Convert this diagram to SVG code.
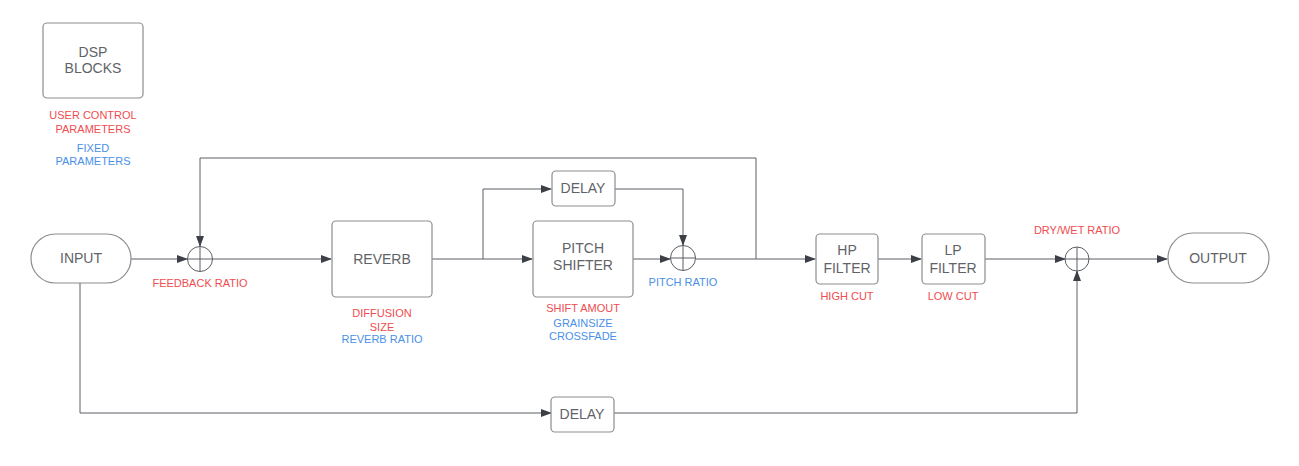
<svg xmlns="http://www.w3.org/2000/svg" width="1299" height="466" viewBox="0 0 1299 466">
<style>
.box{fill:#fff;stroke:#8a8d91;stroke-width:1.2}
.t{font-family:"Liberation Sans",Arial,sans-serif;font-size:14px;fill:#5f6368;text-anchor:middle}
.r{font-family:"Liberation Sans",Arial,sans-serif;font-size:11px;fill:#ef4c4f;text-anchor:middle}
.b{font-family:"Liberation Sans",Arial,sans-serif;font-size:11px;fill:#4a90e8;text-anchor:middle}
.ln{fill:none;stroke:#5a5e64;stroke-width:1;stroke-linejoin:round}
.sum{fill:#fff;stroke:#5a5e64;stroke-width:1}
</style>
<defs>
<marker id="ah" markerWidth="11" markerHeight="8" refX="10" refY="4" orient="auto" markerUnits="userSpaceOnUse">
<path d="M0,0 L11,4 L0,8 Z" fill="#3c4046"/>
</marker>
</defs>
<rect width="1299" height="466" fill="#fff"/>
<g id="connectors">
<path class="ln" d="M131,259 H187" marker-end="url(#ah)"/>
<path class="ln" d="M756,259 V158 H200 V246" marker-end="url(#ah)"/>
<path class="ln" d="M213,259 H331" marker-end="url(#ah)"/>
<path class="ln" d="M432,259 H532" marker-end="url(#ah)"/>
<path class="ln" d="M483,259 V189 H551" marker-end="url(#ah)"/>
<path class="ln" d="M615,189 H683 V245" marker-end="url(#ah)"/>
<path class="ln" d="M633,259 H670" marker-end="url(#ah)"/>
<path class="ln" d="M696,259 H815" marker-end="url(#ah)"/>
<path class="ln" d="M878,259 H921" marker-end="url(#ah)"/>
<path class="ln" d="M985,259 H1065" marker-end="url(#ah)"/>
<path class="ln" d="M1089,259 H1167" marker-end="url(#ah)"/>
<path class="ln" d="M80,283 V413 H551" marker-end="url(#ah)"/>
<path class="ln" d="M614,413 H1077 V271" marker-end="url(#ah)"/>
</g>
<g id="legend">
<rect class="box" x="43" y="23" width="100" height="75" rx="4"/>
<text class="t" x="93" y="57">DSP</text>
<text class="t" x="93" y="73">BLOCKS</text>
<text class="r" x="93" y="119">USER CONTROL</text>
<text class="r" x="93" y="133">PARAMETERS</text>
<text class="b" x="93" y="152">FIXED</text>
<text class="b" x="93" y="165">PARAMETERS</text>
</g>
<g id="input">
<rect class="box" x="31" y="234" width="100" height="49" rx="24.5"/>
<text class="t" x="81" y="263">INPUT</text>
</g>
<g id="sum-feedback">
<circle class="sum" cx="200" cy="259" r="12.5"/>
<path class="ln" d="M187.5,259 H212.5 M200,246.5 V271.5"/>
<text class="r" x="200" y="287">FEEDBACK RATIO</text>
</g>
<g id="reverb">
<rect class="box" x="332" y="221" width="100" height="76" rx="4"/>
<text class="t" x="382" y="264">REVERB</text>
<text class="r" x="382" y="317">DIFFUSION</text>
<text class="r" x="382" y="331">SIZE</text>
<text class="b" x="382" y="343">REVERB RATIO</text>
</g>
<g id="delay-top">
<rect class="box" x="552" y="171" width="63" height="35" rx="4"/>
<text class="t" x="583" y="193">DELAY</text>
</g>
<g id="pitch-shifter">
<rect class="box" x="533" y="221" width="100" height="76" rx="4"/>
<text class="t" x="583" y="253">PITCH</text>
<text class="t" x="583" y="270">SHIFTER</text>
<text class="r" x="583" y="312">SHIFT AMOUT</text>
<text class="b" x="583" y="327">GRAINSIZE</text>
<text class="b" x="583" y="340">CROSSFADE</text>
</g>
<g id="sum-pitch">
<circle class="sum" cx="683" cy="258" r="12.5"/>
<path class="ln" d="M670.5,258 H695.5 M683,245.5 V270.5"/>
<text class="b" x="683" y="286">PITCH RATIO</text>
</g>
<g id="hp-filter">
<rect class="box" x="816" y="234" width="62" height="50" rx="4"/>
<text class="t" x="847" y="255">HP</text>
<text class="t" x="847" y="273">FILTER</text>
<text class="r" x="847" y="300">HIGH CUT</text>
</g>
<g id="lp-filter">
<rect class="box" x="922" y="234" width="63" height="50" rx="4"/>
<text class="t" x="953" y="255">LP</text>
<text class="t" x="953" y="273">FILTER</text>
<text class="r" x="953" y="300">LOW CUT</text>
</g>
<g id="sum-drywet">
<circle class="sum" cx="1077" cy="259" r="12"/>
<path class="ln" d="M1065,259 H1089 M1077,247 V271"/>
<text class="r" x="1077" y="234">DRY/WET RATIO</text>
</g>
<g id="output">
<rect class="box" x="1168" y="233" width="101" height="50" rx="25"/>
<text class="t" x="1218" y="263">OUTPUT</text>
</g>
<g id="delay-bottom">
<rect class="box" x="551" y="397" width="63" height="35" rx="4"/>
<text class="t" x="582" y="419">DELAY</text>
</g>
</svg>
